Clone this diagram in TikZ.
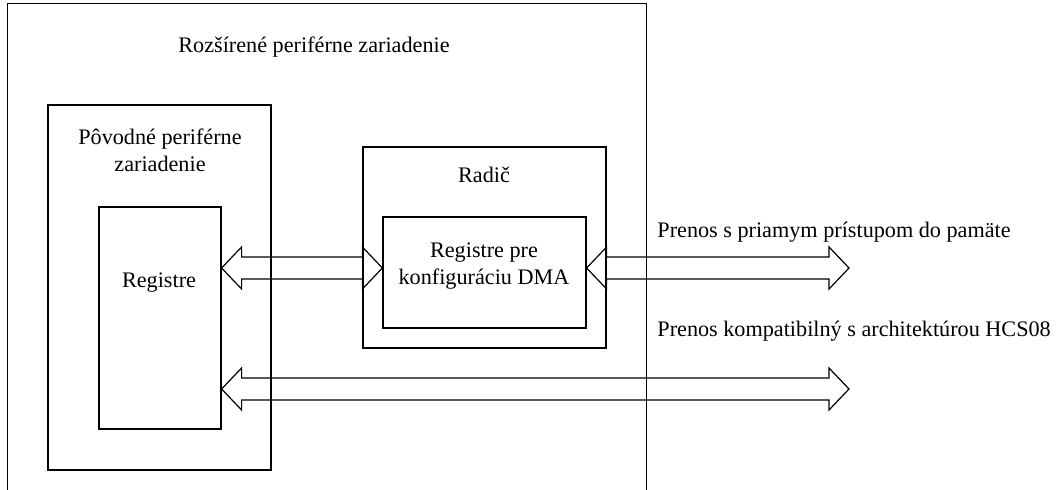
\documentclass[tikz,border=0pt]{standalone}
\usepackage{fontspec}
\setmainfont{Liberation Serif}
\usetikzlibrary{calc,fit}

\tikzset{
    box/.style={draw,line width=0.6pt,inner sep=0pt},
    lbl/.style={anchor=base,inner sep=0pt,align=center,font=\fontsize{11.1}{13.5}\selectfont},
    bus/.style={line width=0.6pt,line join=miter}
}
% hollow double-headed bus arrow between two points on one level
\newcommand{\busarrow}[2]{%
    \draw[bus] (#1) -- ($(#1)+(20,-21)$) -- ($(#1)+(20,-11)$)
        -- ($(#2)+(-20,-11)$) -- ($(#2)+(-20,-21)$) -- (#2)
        -- ($(#2)+(-20,21)$) -- ($(#2)+(-20,11)$)
        -- ($(#1)+(20,11)$) -- ($(#1)+(20,21)$) -- cycle;}

\begin{document}
\begin{tikzpicture}[x=0.5pt,y=-0.5pt]
    \useasboundingbox (0,0) rectangle (1059,490);
    % frames
    \node[inner sep=0pt,fit={(8,4) (646,490)}] (ext) {};
    \draw[line width=0.6pt] (ext.south west) |- (ext.north east) -- (ext.south east);
    \node[box,fit={(48,105) (271,470)}] (orig) {};
    \node[box,fit={(99,207) (221,429)}] (reg) {};
    \node[box,fit={(363,147) (606,348)}] (ctrl) {};
    \node[box,fit={(383,217) (586,328)}] (dma) {};
    % texts (base = last line)
    \node[lbl] (extlbl) at (314,53) {Rozšírené periférne zariadenie};
    \node[lbl] (origlbl) at (160,172) {Pôvodné periférne\\zariadenie};
    \node[lbl] (reglbl) at (159,288) {Registre};
    \node[lbl] (ctrllbl) at (484,183) {Radič};
    \node[lbl] (dmalbl) at (484,285) {Registre pre\\konfiguráciu DMA};
    \node[lbl,anchor=base west] (dmatxt) at (657,238) {Prenos s priamym prístupom do pamäte};
    \node[lbl,anchor=base west] (hcstxt) at (657,337) {Prenos kompatibilný s architektúrou HCS08};
    % bus levels and free ends
    \coordinate (busA) at (0,268);
    \coordinate (busB) at (0,389);
    \coordinate (endA) at (849,268);
    \coordinate (endB) at (849,389);
    % arrows
    \busarrow{reg.east |- busA}{dma.west |- busA}
    \busarrow{dma.east |- busA}{endA}
    \busarrow{reg.east |- busB}{endB}
\end{tikzpicture}
\end{document}
